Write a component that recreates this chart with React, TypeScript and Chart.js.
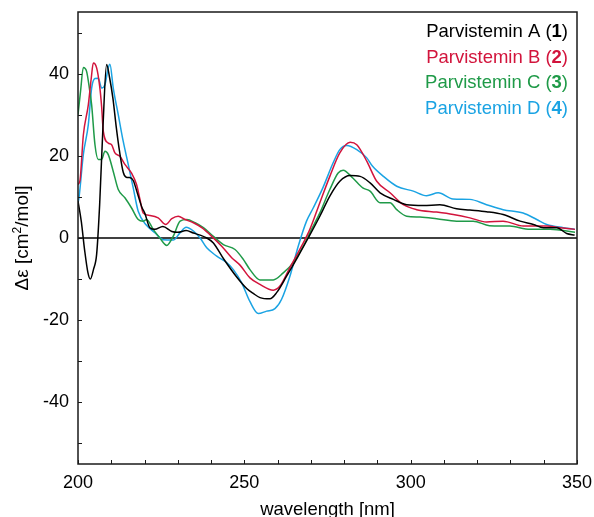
import React, { useEffect, useRef } from "react";
import { Chart, registerables } from "chart.js";

Chart.register(...registerables);

// ---- data ----
const seriesNames = ["Parvistemin A", "Parvistemin B", "Parvistemin C", "Parvistemin D"];
const seriesNums = ["1", "2", "3", "4"];
const seriesColors = ["#000000", "#d2143c", "#1f9a48", "#1aa3e3"];

const xA = [200, 201, 202, 203, 203.7, 204.7, 205.6, 206.5, 207.5, 208.6, 209.5, 210.5, 211.5, 212.5, 213.6, 214.5, 215.5, 216.6, 218, 219.2, 220.1, 221.6, 223.1, 225.5, 228.2, 230, 232.5, 234.7, 236.7, 238.7, 240.7, 243.7, 247.7, 250.7, 252.7, 254.7, 257.7, 259.7, 262.7, 266.2, 269.2, 272.7, 275.7, 278.7, 281.8, 284.8, 287.8, 290.8, 294.8, 298.8, 303.8, 308.8, 313.8, 317.8, 322.8, 327.8, 332.9, 336.9, 339.9, 343.9, 346.9, 349.3];
const yA = [9, 4, -3, -8.5, -10, -7.5, -4, 8, 27, 42.2, 39, 34, 27, 21, 16, 14.8, 14.7, 14, 10.5, 7.5, 6, 2.5, 2.1, 2.8, 1.6, 1.4, 1.8, 1.2, 0.7, 0, -1.2, -5, -9.5, -12.3, -13.5, -14.5, -14.8, -13.3, -9.3, -4.4, 0, 5.3, 10.2, 13.8, 15.2, 15, 13.4, 11, 9.4, 8.1, 7.9, 8.1, 7.1, 6.8, 6.4, 5.7, 4.1, 3.3, 2.5, 2.5, 1.1, 0.7];

const xB = [200, 200.6, 201.6, 203.1, 204, 204.6, 205.6, 206.5, 207.1, 207.6, 209.1, 210.1, 211.1, 212.6, 214.1, 216.1, 217.6, 218.6, 219.6, 221.6, 224.1, 226.4, 228.2, 230.1, 232.2, 234.7, 237.2, 240.2, 243.2, 246.2, 248.7, 251.7, 254.7, 258.7, 260.7, 263.7, 267.2, 269.7, 272.7, 275.7, 278.7, 281.8, 283.8, 286.8, 289.8, 293.8, 297.8, 301.8, 307.8, 312.8, 317.8, 322.8, 327.8, 333.9, 340.9, 344.9, 349.4];
const yB = [13, 14, 25, 32.4, 39, 42.6, 41.4, 37, 32, 26, 23.1, 22.7, 20.7, 19.9, 17.9, 15.8, 13, 9.5, 6.1, 5.5, 4.9, 3.3, 4.7, 5.3, 4.5, 3.7, 2.5, 0.4, -2, -4.8, -6.6, -9.7, -11.3, -12.7, -11.7, -7.2, -2, 2.1, 8.6, 15, 20.7, 23.3, 22.7, 18.7, 13.8, 11, 8.1, 6.9, 6.3, 5.7, 4.9, 3.9, 4.1, 2.9, 2.9, 2.5, 2.1];

const xC = [200, 200.8, 201.6, 202.6, 203.5, 204.1, 205.1, 206.1, 207.1, 208.1, 209.1, 210.6, 212.1, 214.1, 216.1, 218.1, 219.6, 220.6, 222.6, 224.6, 226.7, 228.6, 230.7, 232.7, 235.2, 237.7, 240.7, 243.7, 247.2, 249.7, 251.7, 254.7, 258.7, 261.7, 264.7, 267.7, 270.2, 272.7, 275.7, 278.2, 279.7, 282.6, 285.6, 287.8, 290.8, 293.8, 295.8, 298.8, 302.8, 307.8, 313.8, 318.8, 323.7, 329.8, 335.9, 341.9, 349.4];
const yC = [30, 36, 41.5, 40.5, 36, 32.4, 22.7, 19.1, 19.1, 21.1, 20.3, 16.2, 11.8, 9.8, 7.3, 4.5, 4.1, 4.5, 2.1, 0, -1.8, 0.4, 4.1, 4.5, 3.7, 2.5, 0.4, -1.6, -2.8, -5.2, -7.7, -10.2, -10.2, -8.5, -6, -2, 2.1, 6.1, 11.8, 15.8, 16.5, 14.6, 12.2, 11.4, 8.6, 8.6, 6.9, 5.3, 5.1, 4.7, 4.1, 4.1, 3, 2.9, 2.1, 2.1, 1.4];

const xD = [200, 200.3, 201.6, 203.1, 204.1, 205.1, 206.1, 207.1, 208.1, 209.1, 209.6, 210.6, 212.1, 213.6, 215.1, 216.6, 218.1, 220.6, 223.1, 225.6, 228.6, 230.7, 232.5, 234.7, 236.7, 238.7, 241.7, 244.7, 246.7, 249.2, 251.7, 254.2, 256.7, 259.2, 261.2, 263.7, 266.2, 268.7, 270.7, 273.6, 276.7, 278.7, 280.8, 283.8, 286.8, 288.5, 291.8, 295.8, 300.8, 304.8, 308.3, 312.7, 317.8, 322.8, 327.8, 333.8, 337.9, 340.9, 345.9, 349.4];
const yD = [8.5, 9.8, 20.3, 27.6, 36.5, 38.8, 38.9, 36.5, 37.3, 41.4, 42.3, 36.5, 30, 23.5, 17.9, 12.2, 6.5, 3.1, 1.3, -0.4, -0.5, 1.3, 2.6, 1.7, 0, -2.4, -4.4, -6, -7.7, -10.9, -15.5, -18.4, -17.8, -17.2, -14.9, -9.3, -2, 4.1, 7.3, 12.2, 18.3, 21.5, 22.5, 21.5, 19.5, 17.5, 15, 12.6, 11.4, 10.3, 11, 9.5, 9.4, 8.1, 6.9, 6.1, 4.5, 3.3, 2.5, 2.1];

const seriesX = [xA, xB, xC, xD];
const seriesY = [yA, yB, yC, yD];

const xTickValues = [200, 210, 220, 230, 240, 250, 260, 270, 280, 290, 300, 310, 320, 330, 340, 350];
const yTickValues = [-50, -40, -30, -20, -10, 0, 10, 20, 30, 40, 50];
const xTickLabels = [200, 250, 300, 350];
const yTickLabels = [40, 20, 0, -20, -40];
const xTitle = "wavelength [nm]";
const yTitleMain = "\u0394\u03b5 [cm";
const yTitleSup = "2";
const yTitleEnd = "/mol]";

const FONT = '"Liberation Sans", Arial, sans-serif';

const framePlugin = {
  id: "frame",
  beforeDatasetsDraw(chart: any) {
    const { ctx, chartArea, scales } = chart;
    const y0 = scales.y.getPixelForValue(0);
    ctx.save();
    ctx.strokeStyle = "#000";
    ctx.lineWidth = 1.3;
    ctx.beginPath();
    ctx.moveTo(chartArea.left, y0);
    ctx.lineTo(chartArea.right, y0);
    ctx.stroke();
    ctx.restore();
  },
  afterDraw(chart: any) {
    const { ctx, chartArea, scales } = chart;
    const { left, right, top, bottom } = chartArea;
    ctx.save();
    ctx.strokeStyle = "#1a1a1a";
    ctx.lineWidth = 1.5;
    ctx.strokeRect(left, top, right - left, bottom - top);
    ctx.lineWidth = 1;
    ctx.beginPath();
    scales.y.ticks.forEach((t: any) => {
      const py = Math.round(scales.y.getPixelForValue(t.value)) + 0.5;
      ctx.moveTo(left, py);
      ctx.lineTo(left + 4, py);
    });
    scales.x.ticks.forEach((t: any) => {
      const px = Math.round(scales.x.getPixelForValue(t.value)) + 0.5;
      ctx.moveTo(px, bottom);
      ctx.lineTo(px, bottom - 4);
    });
    ctx.stroke();

    // legend
    const normal = `18.5px ${FONT}`;
    const bold = `bold 18.5px ${FONT}`;
    ctx.textAlign = "right";
    ctx.textBaseline = "alphabetic";
    const baselines = [37, 62.5, 88, 113.5];
    chart.data.datasets.forEach((ds: any, i: number) => {
      let xr = right - 9;
      const yb = baselines[i];
      ctx.fillStyle = ds.borderColor;
      ctx.font = normal;
      ctx.fillText(")", xr, yb);
      xr -= ctx.measureText(")").width;
      ctx.font = bold;
      ctx.fillText(seriesNums[i], xr, yb);
      xr -= ctx.measureText(seriesNums[i]).width;
      ctx.font = normal;
      ctx.fillText(seriesNames[i] + " (", xr, yb);
    });

    // x title
    ctx.fillStyle = "#000";
    ctx.font = `18.5px ${FONT}`;
    ctx.textAlign = "center";
    ctx.textBaseline = "alphabetic";
    ctx.fillText(xTitle, (left + right) / 2, 515);

    // y title with superscript
    const mainFont = `19px ${FONT}`;
    const supFont = `12px ${FONT}`;
    ctx.font = mainFont;
    const w1 = ctx.measureText(yTitleMain).width;
    const w3 = ctx.measureText(yTitleEnd).width;
    ctx.font = supFont;
    const w2 = ctx.measureText(yTitleSup).width;
    const total = w1 + w2 + w3;
    ctx.translate(28, (top + bottom) / 2);
    ctx.rotate(-Math.PI / 2);
    ctx.textAlign = "left";
    let xs = -total / 2;
    ctx.font = mainFont;
    ctx.fillText(yTitleMain, xs, 0);
    xs += w1;
    ctx.font = supFont;
    ctx.fillText(yTitleSup, xs, -7);
    xs += w2;
    ctx.font = mainFont;
    ctx.fillText(yTitleEnd, xs, 0);
    ctx.restore();
  },
};

export default function App() {
  const ref = useRef<HTMLCanvasElement | null>(null);
  useEffect(() => {
    if (!ref.current) return;
    const datasets = seriesNames.map((name, i) => ({
      label: name,
      data: seriesX[i].map((x, j) => ({ x, y: seriesY[i][j] })),
      borderColor: seriesColors[i],
      backgroundColor: seriesColors[i],
      borderWidth: 1.5,
      pointRadius: 0,
      cubicInterpolationMode: "monotone" as const,
      fill: false,
    }));
    const tickFont = { family: FONT, size: 18 };
    const chart = new Chart(ref.current, {
      type: "line",
      data: { datasets },
      options: {
        animation: false,
        responsive: false,
        maintainAspectRatio: false,
        layout: { padding: { top: 12, right: 17, left: 0, bottom: 0 } },
        plugins: { legend: { display: false }, tooltip: { enabled: false } },
        scales: {
          x: {
            type: "linear",
            min: 200,
            max: 350,
            grid: { display: false, drawTicks: false },
            border: { display: false },
            ticks: {
              autoSkip: false,
              maxRotation: 0,
              padding: 8,
              color: "#000",
              font: tickFont,
              callback: (v: any) => (xTickLabels.includes(Number(v)) ? String(v) : ""),
            },
            afterBuildTicks: (s: any) => {
              s.ticks = xTickValues.map((v) => ({ value: v }));
            },
            afterFit: (s: any) => {
              s.height = 53;
              s.paddingLeft = 0;
              s.paddingRight = 0;
            },
          },
          y: {
            type: "linear",
            min: -55,
            max: 55,
            grid: { display: false, drawTicks: false },
            border: { display: false },
            ticks: {
              autoSkip: false,
              padding: 9,
              color: "#000",
              font: tickFont,
              callback: (v: any) => (yTickLabels.includes(Number(v)) ? String(v) : ""),
            },
            afterBuildTicks: (s: any) => {
              s.ticks = yTickValues.map((v) => ({ value: v }));
            },
            afterFit: (s: any) => {
              s.width = 78;
              s.paddingTop = 0;
              s.paddingBottom = 0;
            },
          },
        },
      },
      plugins: [framePlugin],
    });
    return () => chart.destroy();
  }, []);
  return (
    <div style={{ position: "absolute", left: 0, top: 0, width: 594, height: 517 }}>
      <canvas ref={ref} width={594} height={517} style={{ display: "block" }} />
    </div>
  );
}
